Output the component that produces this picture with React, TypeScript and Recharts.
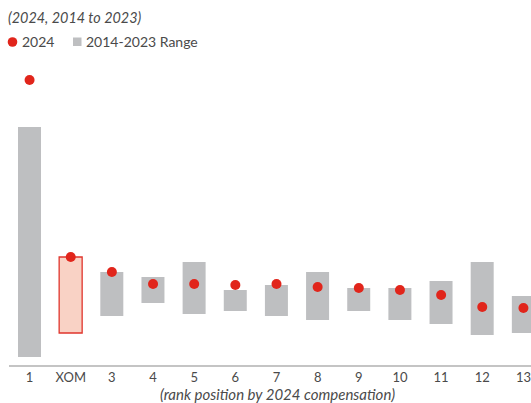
import { ComposedChart, Bar, Line, XAxis, YAxis, Cell } from "recharts";

// rank position by 2024 compensation
const ranks = ["1", "XOM", "3", "4", "5", "6", "7", "8", "9", "10", "11", "12", "13"];
// 2014-2023 range (low / high), relative units
const rangeLow = [1.8, 6.6, 10, 12.6, 10.4, 11, 10, 9.2, 11, 9.2, 8.4, 6.2, 6.6];
const rangeHigh = [47.8, 21.8, 18.8, 17.8, 20.8, 15.2, 16.2, 18.8, 15.6, 15.6, 17, 20.8, 14];
// 2024 values
const value2024 = [57.2, 21.8, 18.8, 16.4, 16.4, 16.2, 16.4, 15.8, 15.6, 15.2, 14.2, 11.8, 11.6];

const RED = "#e1251b";
const GRAY = "#bebfc1";
const TEXT = "#4a4a4a";
const FONT = "Lato, 'Open Sans', sans-serif";

const data = ranks.map((name, i) => ({
  name,
  range: [rangeLow[i], rangeHigh[i]],
  v2024: value2024[i],
}));

export default function App() {
  return (
    <div style={{ position: "absolute", left: 0, top: 0, width: 531, height: 403, overflow: "hidden", background: "#fff" }}>
      <svg width={531} height={60} style={{ position: "absolute", left: 0, top: 0 }}>
        <text x={8} y={23} fontFamily={FONT} fontSize={14.4} fontStyle="italic" fill={TEXT}>
          (2024, 2014 to 2023)
        </text>
        <circle cx={12.5} cy={42} r={4.8} fill={RED} />
        <text x={22} y={47} fontFamily={FONT} fontSize={14} fill={TEXT}>
          2024
        </text>
        <rect x={73} y={37.5} width={8.5} height={8.5} fill={GRAY} />
        <text x={86} y={47} fontFamily={FONT} fontSize={14} fill={TEXT}>
          2014-2023 Range
        </text>
      </svg>
      <div style={{ position: "absolute", left: 0, top: 0 }}>
        <ComposedChart width={560} height={403} data={data} margin={{ top: 66, right: 16, bottom: 0, left: 9 }}>
          <XAxis
            dataKey="name"
            height={37}
            tickLine={false}
            tickMargin={1}
            axisLine={{ stroke: "#8a8a8a", strokeWidth: 1.2 }}
            tick={{ fill: TEXT, fontSize: 13, fontFamily: FONT }}
            interval={0}
            label={{
              value: "(rank position by 2024 compensation)",
              position: "insideBottom",
              offset: 3,
              fill: TEXT,
              fontSize: 15,
              fontStyle: "italic",
              fontFamily: FONT,
              dx: 1,
            }}
          />
          <YAxis hide domain={[0, 60]} />
          <Bar dataKey="range" barSize={23} fill={GRAY} isAnimationActive={false}>
            {data.map((d) => (
              <Cell
                key={d.name}
                fill={d.name === "XOM" ? "#f9d2c5" : GRAY}
                stroke={d.name === "XOM" ? "#e0352c" : "none"}
                strokeWidth={d.name === "XOM" ? 1.3 : 0}
              />
            ))}
          </Bar>
          <Line
            dataKey="v2024"
            stroke="none"
            dot={{ r: 5, fill: RED, stroke: "none" }}
            activeDot={false}
            isAnimationActive={false}
          />
        </ComposedChart>
      </div>
    </div>
  );
}
